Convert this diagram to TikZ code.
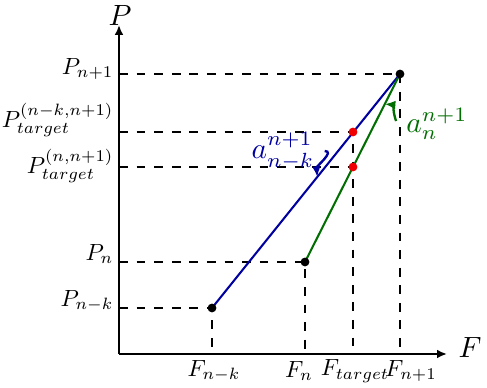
\documentclass[tikz,border=0pt]{standalone}
\usepackage{amsmath,amssymb}
\usepackage{graphicx}
\usepackage{tikz}
\usetikzlibrary{arrows.meta,positioning,calc}
\definecolor{slopeBlue}{RGB}{0,0,160}
\definecolor{slopeGreen}{RGB}{0,110,0}
\definecolor{targetRed}{RGB}{240,0,0}
\newcommand{\ticklabel}[1]{\scalebox{0.8}{$#1$}}
\begin{document}
\begin{tikzpicture}[x=0.012cm, y=0.012cm,
    axis/.style={line width=1pt, -{Latex[length=3.4pt,width=3pt]}},
    guide/.style={dashed, line width=0.4pt},
    dot/.style={circle, fill=black, inner sep=0pt, minimum size=3pt},
    reddot/.style={circle, fill=targetRed, inner sep=0pt, minimum size=3pt},
    ylab/.style={anchor=east, inner sep=0pt},
    xlab/.style={inner sep=0pt},
    slopearrow/.style={line width=0.8pt, -{Latex[length=3.6pt,width=3pt]}}]
        \useasboundingbox (-119,-34) rectangle (368,354);
        % Axes
        \coordinate (O) at (0,0);
        \coordinate (xend) at (328,0);
        \coordinate (yend) at (0,329);
        \draw[axis] (O) -- (xend);
        \draw[axis] (O) -- (yend);
        \node (Plab) at (1,339) {$P$};
        \node (Flab) at (351,7) {$F$};
        % Points
        \coordinate (Pnk) at (93,46);
        \coordinate (Pn) at (186,92);
        \coordinate (Pn1) at (281,280);
        \coordinate (Tnk) at (234,222);
        \coordinate (Tn) at (234,187);
        % Dashed guides
        \draw[guide] (O |- Pnk) -- (Pnk) -- (Pnk |- O);
        \draw[guide] (O |- Pn) -- (Pn) -- (Pn |- O);
        \draw[guide] (O |- Pn1) -- (Pn1) -- (Pn1 |- O);
        \draw[guide] (O |- Tnk) -- (Tnk) -- (Tnk |- O);
        \draw[guide] (O |- Tn) -- (Tn);
        % Secant lines
        \draw[slopeBlue, line width=0.7pt] (Pnk) -- (Pn1)
          coordinate[pos=0.56] (btip);
        \draw[slopeGreen, line width=0.7pt] (Pn) -- (Pn1)
          coordinate[pos=0.84] (gtip);
        \node[dot] (dPnk) at (Pnk) {};
        \node[dot] (dPn) at (Pn) {};
        \node[dot] (dPn1) at (Pn1) {};
        \node[reddot] (dTnk) at (Tnk) {};
        \node[reddot] (dTn) at (Tn) {};
        % Axis labels
        \node[ylab] (lPn1) at (-5,285) {\ticklabel{P_{n+1}}};
        \node[ylab] (lTnk) at (-5,234) {\ticklabel{P_{target}^{(n-k,n+1)}}};
        \node[ylab] (lTn) at (-5,188) {\ticklabel{P_{target}^{(n,n+1)}}};
        \node[ylab] (lPn) at (-5,100) {\ticklabel{P_{n}}};
        \node[ylab] (lPnk) at (-5,53) {\ticklabel{P_{n-k}}};
        \node[xlab] (lFnk) at (95,-17) {\ticklabel{F_{n-k}}};
        \node[xlab] (lFn) at (180,-17) {\ticklabel{F_{n}}};
        \node[xlab] (lFt) at (236,-17) {\ticklabel{F_{target}}};
        \node[xlab] (lFn1) at (292,-17) {\ticklabel{F_{n+1}}};
        % Slope labels
        \node[text=slopeBlue] (abl) at (164,203) {$a_{n-k}^{n+1}$};
        \node[text=slopeGreen] (agl) at (318,230) {$a_{n}^{n+1}$};
        \draw[slopearrow, slopeBlue] (abl.east) to[out=0, in=95] (btip);
        \draw[slopearrow, slopeGreen] ([yshift=1pt]agl.west) to[out=110, in=-5] (gtip);
      \end{tikzpicture}
\end{document}
